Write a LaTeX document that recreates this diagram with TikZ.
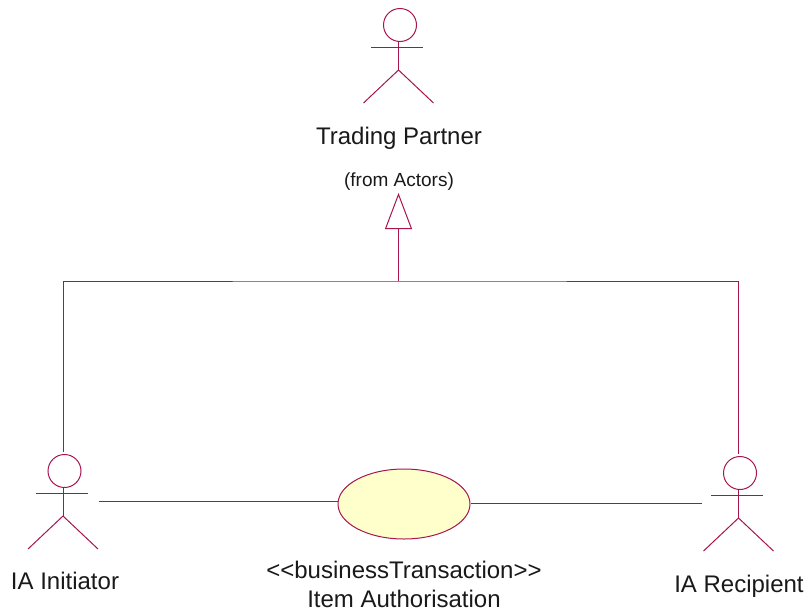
\documentclass[tikz,border=0pt]{standalone}
\usepackage{fontspec}
\setmainfont{Liberation Sans}
\usetikzlibrary{arrows.meta, shapes.geometric}
\definecolor{rose}{HTML}{A8144E}
\definecolor{usecase}{HTML}{FFFFCC}

\tikzset{
    actor/.pic={
        \node[head] (-head) at (0,0) {};
        \draw (-29,22) -- (23,22);
        \draw (-1.5,16) -- (-1.5,45);
        \draw (-36.5,78) -- (-1.5,45) -- (33.5,78);
        \coordinate (-top) at (-1.5,-19);
        \coordinate (-left) at (-38,30);
        \coordinate (-right) at (34,30);
    },
    head/.style={draw, circle, inner sep=0pt, minimum size=33pt},
    link/.style={draw=rose, line width=1pt},
    biglabel/.style={font=\fontsize{24}{29}\selectfont, text=black!90, inner sep=0pt, align=center},
    smalllabel/.style={font=\fontsize{19}{22}\selectfont, text=black!90, inner sep=0pt}
}

\begin{document}
\begin{tikzpicture}[x=1pt,y=-1pt,color=rose,line width=1pt]
                \useasboundingbox (0,0) rectangle (809,611);
                \pic (partner) at (400,25) {actor};
                \pic (initiator) at (64.5,471) {actor};
                \pic (recipient) at (740,473) {actor};
                \node[draw, ellipse, fill=usecase, inner sep=0pt, minimum width=132pt, minimum height=70pt] (auth) at (404,504) {};

                \node[biglabel] (partnerlabel) at (399,138.5) {Trading Partner};
                \node[smalllabel] (fromlabel) at (399,182) {(from Actors)};
                \node[biglabel] (initiatorlabel) at (65,581) {IA Initiator};
                \node[biglabel] (recipientlabel) at (739,586.5) {IA Recipient};
                \node[biglabel] (authlabel) at (404,584) {<{}<businessTransaction>{}>\\Item Authorisation};

                \coordinate (joint) at (398.5,281);
                \coordinate (apex) at (398.5,193);
                \draw[link,-{Triangle[open,length=36pt,width=27pt]}] (joint) -- (apex);
                \draw[link] (initiator-top) |- (joint) -| (recipient-top);
                \draw[link] (initiator-right) -- (initiator-right -| auth.west);
                \draw[link] (recipient-left) -- (recipient-left -| auth.east);
            \end{tikzpicture}
\end{document}
